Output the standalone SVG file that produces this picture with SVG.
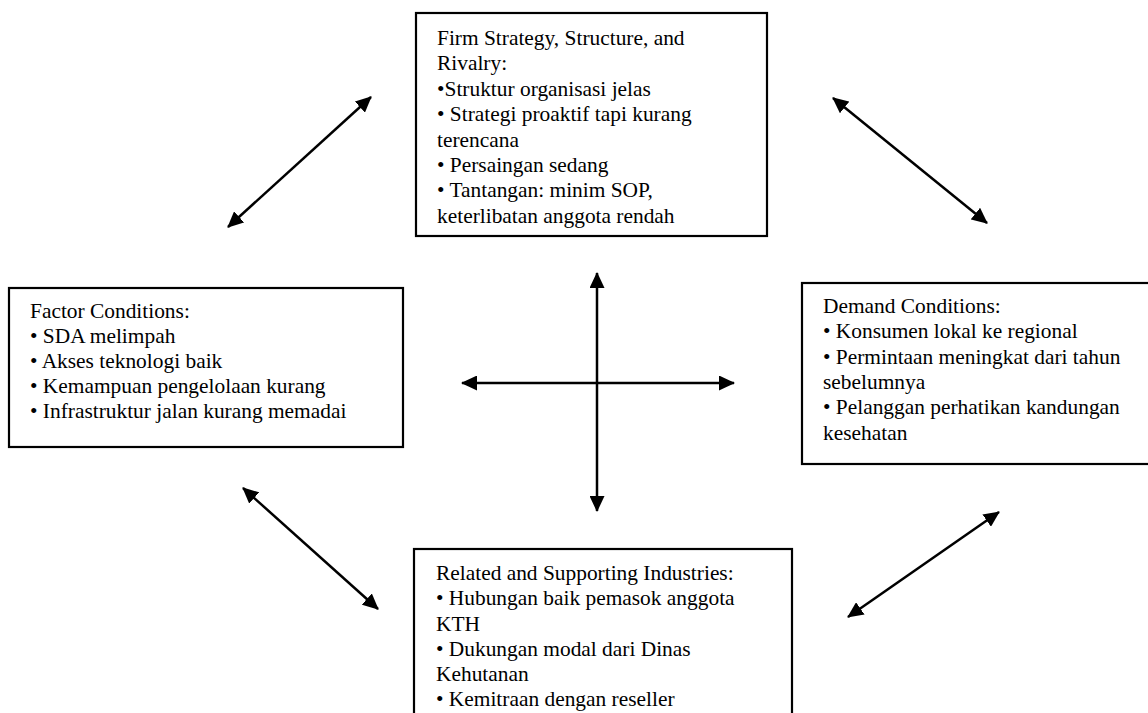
<svg xmlns="http://www.w3.org/2000/svg" width="1148" height="713" viewBox="0 0 1148 713">
<style>
.box{fill:#fff;stroke:#000;stroke-width:2.2}
.t{font-family:'Liberation Serif','Times New Roman',serif;font-size:21.4px;fill:#000}
.c{stroke:#000;stroke-width:2.5;fill:none;marker-start:url(#ah);marker-end:url(#ah)}
</style>
<defs>
<marker id="ah" viewBox="0 0 16 15" refX="15" refY="7.5" markerWidth="16" markerHeight="15" markerUnits="userSpaceOnUse" orient="auto-start-reverse">
<path d="M0,0 L16,7.5 L0,15 z" fill="#000"/>
</marker>
</defs>
<rect width="1148" height="713" fill="#fff"/>
<g id="firm">
<rect class="box" x="416" y="13" width="351" height="223"/>
<text class="t" x="437" y="45">Firm Strategy, Structure, and</text>
<text class="t" x="437" y="70.4">Rivalry:</text>
<text class="t" x="437" y="95.8">•Struktur organisasi jelas</text>
<text class="t" x="437" y="121.2">• Strategi proaktif tapi kurang</text>
<text class="t" x="437" y="146.6">terencana</text>
<text class="t" x="437" y="172">• Persaingan sedang</text>
<text class="t" x="437" y="197.4">• Tantangan: minim SOP,</text>
<text class="t" x="437" y="222.8">keterlibatan anggota rendah</text>
</g>
<g id="factor">
<rect class="box" x="9" y="288" width="394" height="159"/>
<text class="t" x="30" y="318">Factor Conditions:</text>
<text class="t" x="30" y="343">• SDA melimpah</text>
<text class="t" x="30" y="368">• Akses teknologi baik</text>
<text class="t" x="30" y="393">• Kemampuan pengelolaan kurang</text>
<text class="t" x="30" y="418">• Infrastruktur jalan kurang memadai</text>
</g>
<g id="demand">
<rect class="box" x="802" y="283" width="352" height="181"/>
<text class="t" x="823" y="313">Demand Conditions:</text>
<text class="t" x="823" y="338">• Konsumen lokal ke regional</text>
<text class="t" x="823" y="363.5">• Permintaan meningkat dari tahun</text>
<text class="t" x="823" y="389">sebelumnya</text>
<text class="t" x="823" y="414">• Pelanggan perhatikan kandungan</text>
<text class="t" x="823" y="439.5">kesehatan</text>
</g>
<g id="related">
<rect class="box" x="414" y="549" width="378" height="180"/>
<text class="t" x="436" y="580">Related and Supporting Industries:</text>
<text class="t" x="436" y="605">• Hubungan baik pemasok anggota</text>
<text class="t" x="436" y="630.5">KTH</text>
<text class="t" x="436" y="655.5">• Dukungan modal dari Dinas</text>
<text class="t" x="436" y="680.5">Kehutanan</text>
<text class="t" x="436" y="705.5">• Kemitraan dengan reseller</text>
</g>
<g id="connectors">
<line class="c" x1="371" y1="97" x2="228" y2="227"/>
<line class="c" x1="833" y1="98" x2="987" y2="223"/>
<line class="c" x1="243" y1="488" x2="378" y2="609"/>
<line class="c" x1="999" y1="512" x2="848" y2="617"/>
<line class="c" x1="597" y1="273" x2="597" y2="511"/>
<line class="c" x1="462" y1="383" x2="734" y2="383"/>
</g>
</svg>
